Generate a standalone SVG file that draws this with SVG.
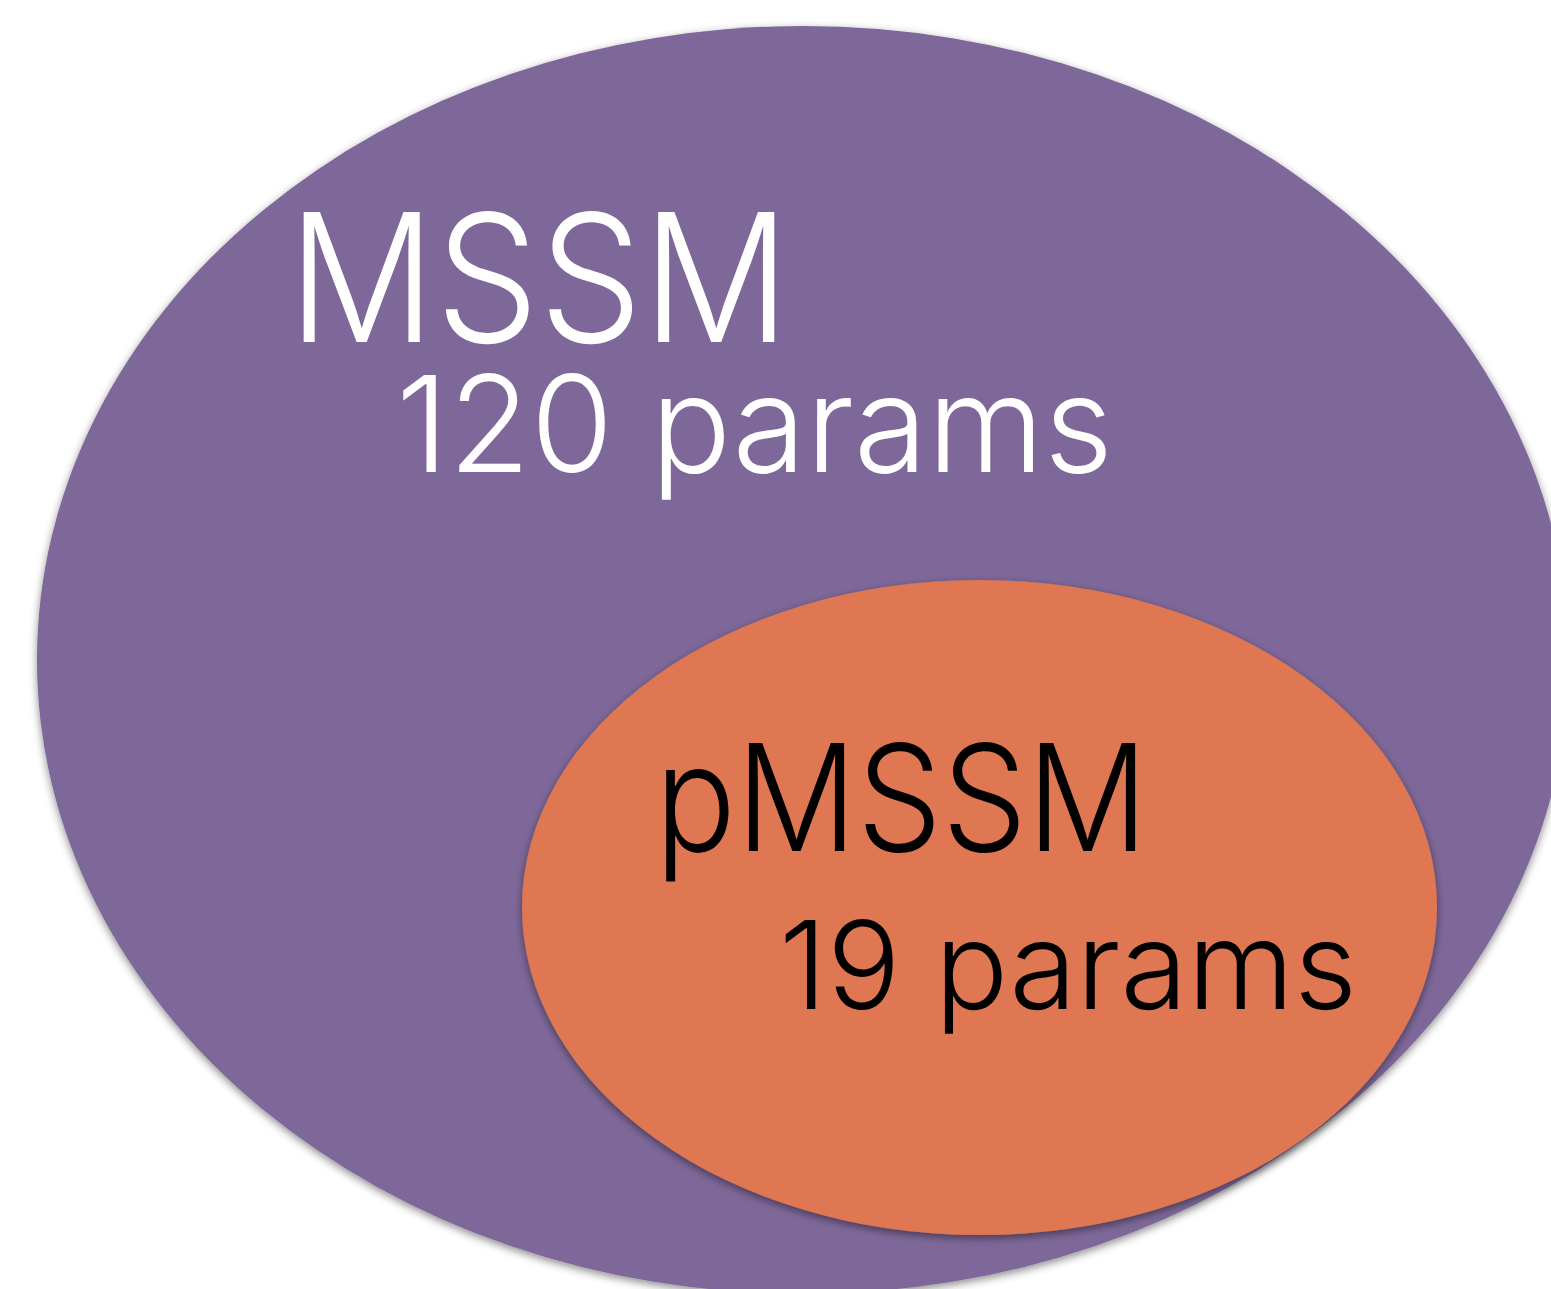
<svg xmlns="http://www.w3.org/2000/svg" width="1551" height="1289" viewBox="0 0 1551 1289">
<style>
.lbl{font-family:Inter,Roboto,"Liberation Sans",sans-serif;font-weight:300}
.white{fill:#ffffff}
.black{fill:#000000}
</style>
<defs>
<filter id="sh" x="-10%" y="-10%" width="120%" height="120%">
<feDropShadow dx="0" dy="3" stdDeviation="4" flood-color="#000" flood-opacity="0.45"/>
</filter>
</defs>
<rect width="1551" height="1289" fill="#ffffff"/>
<g id="mssm">
<ellipse cx="803" cy="660" rx="766" ry="634" fill="#7E6799" filter="url(#sh)"/>
<text class="lbl white" x="288" y="342" font-size="178" textLength="502" lengthAdjust="spacingAndGlyphs">MSSM</text>
<text class="lbl white" x="396" y="472" font-size="134" textLength="717" lengthAdjust="spacingAndGlyphs">120 params</text>
</g>
<g id="pmssm">
<ellipse cx="979.5" cy="907.5" rx="457.5" ry="327.5" fill="#DF7752" filter="url(#sh)"/>
<text class="lbl black" x="655" y="851" font-size="148" textLength="493" lengthAdjust="spacingAndGlyphs">pMSSM</text>
<text class="lbl black" x="779" y="1009" font-size="122" textLength="578" lengthAdjust="spacingAndGlyphs">19 params</text>
</g>
<g id="connectors"/>
</svg>
